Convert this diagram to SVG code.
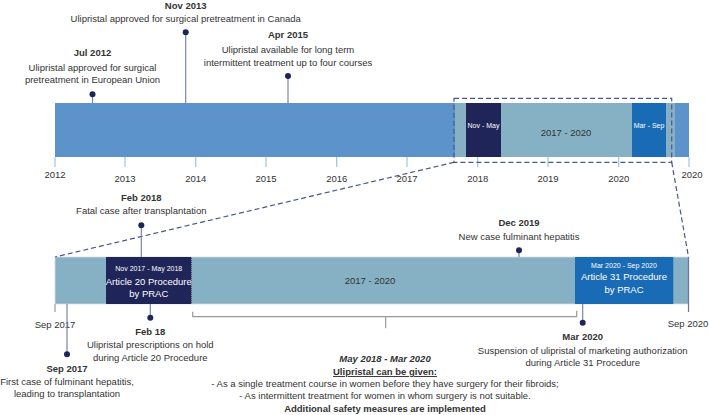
<svg xmlns="http://www.w3.org/2000/svg" width="709" height="415" viewBox="0 0 709 415">
<style>
text{font-family:"Liberation Sans",Arial,sans-serif;font-size:9.5px;fill:#333;text-anchor:middle}
.b{font-weight:bold}
.w{fill:#fff}
.s{font-size:7px;fill:#fff}
.dash{stroke:#4A5590;stroke-width:1.2;stroke-dasharray:5 3;fill:none}
.stem{stroke:#7A86AE;stroke-width:1.2}
.dot{fill:#1F2459}
.tick{stroke:#9DC3E6;stroke-width:1.2}
.gt{stroke:#999;stroke-width:1.2;fill:none}
</style>
<rect width="709" height="415" fill="#fff"/>
<g id="upper-bar">
<rect x="55" y="103" width="634" height="54" fill="#5B93CA"/>
<rect x="455" y="103" width="220" height="54" fill="#86B1C5"/>
<rect x="466" y="103" width="35" height="54" fill="#1F2459"/>
<rect x="632" y="103" width="34" height="54" fill="#1A6BB5"/>
<text class="s" x="483.5" y="127.5">Nov - May</text>
<text x="566" y="136">2017 - 2020</text>
<text class="s" x="649" y="127.5">Mar - Sep</text>
</g>
<g id="upper-axis">
<line class="tick" x1="55" y1="157" x2="55" y2="167"/>
<line class="tick" x1="125" y1="157" x2="125" y2="167"/>
<line class="tick" x1="195.7" y1="157" x2="195.7" y2="167"/>
<line class="tick" x1="266" y1="157" x2="266" y2="167"/>
<line class="tick" x1="336.7" y1="157" x2="336.7" y2="167"/>
<line class="tick" x1="407" y1="157" x2="407" y2="167"/>
<line class="tick" x1="477.7" y1="157" x2="477.7" y2="167"/>
<line class="tick" x1="548" y1="157" x2="548" y2="167"/>
<line class="tick" x1="618.7" y1="157" x2="618.7" y2="167"/>
<line class="tick" x1="689" y1="157" x2="689" y2="167"/>
<text x="55" y="178.3">2012</text>
<text x="125" y="182.3">2013</text>
<text x="195.7" y="182.3">2014</text>
<text x="266" y="182.3">2015</text>
<text x="336.7" y="182.3">2016</text>
<text x="407" y="182.3">2017</text>
<text x="477.7" y="182.3">2018</text>
<text x="548" y="182.3">2019</text>
<text x="618.7" y="182.3">2020</text>
<text x="692" y="178.3">2020</text>
</g>
<g id="ev-jul2012">
<text class="b" x="92.5" y="56.3">Jul 2012</text>
<text x="92.5" y="71">Ulipristal approved for surgical</text>
<text x="92.5" y="83.3">pretreatment in European Union</text>
</g>
<g id="ev-nov2013">
<text class="b" x="185.7" y="8.5">Nov 2013</text>
<text x="185.7" y="21.6">Ulipristal approved for surgical pretreatment in Canada</text>
</g>
<g id="ev-apr2015">
<text class="b" x="288" y="38.3">Apr 2015</text>
<text x="288" y="53">Ulipristal available for long term</text>
<text x="288" y="65.6">intermittent treatment up to four courses</text>
</g>
<g id="lower-bar">
<rect x="55" y="257" width="633.5" height="47" fill="#86B1C5" stroke="#d8dde0" stroke-width="0.8"/>
<rect x="106" y="257" width="85.7" height="47" fill="#1F2459"/>
<rect x="575" y="257" width="98.3" height="47" fill="#1A6BB5"/>
<line x1="191.7" y1="257" x2="191.7" y2="304" stroke="#9FB3C0" stroke-width="1" stroke-dasharray="1 1"/>
<text class="s" x="148.75" y="270.8">Nov 2017 - May 2018</text>
<text class="w" x="148.75" y="285">Article 20 Procedure</text>
<text class="w" x="148.75" y="297.3">by PRAC</text>
<text x="370" y="284.3">2017 - 2020</text>
<text class="s" x="624" y="268.2">Mar 2020 - Sep 2020</text>
<text class="w" x="624" y="280.3">Article 31 Procedure</text>
<text class="w" x="624" y="292.8">by PRAC</text>
<text x="55" y="327.6">Sep 2017</text>
<text x="688" y="326.6">Sep 2020</text>
</g>
<g id="ev-feb2018">
<text class="b" x="141.3" y="201">Feb 2018</text>
<text x="141.3" y="214.3">Fatal case after transplantation</text>
</g>
<g id="ev-dec2019">
<text class="b" x="519" y="225.6">Dec 2019</text>
<text x="519" y="240">New case fulminant hepatitis</text>
</g>
<g id="ev-sep2017">
<text class="b" x="67" y="371.6">Sep 2017</text>
<text x="67" y="385">First case of fulminant hepatitis,</text>
<text x="67" y="397.3">leading to transplantation</text>
</g>
<g id="ev-feb18">
<text class="b" x="150.3" y="335">Feb 18</text>
<text x="150.3" y="348.3">Ulipristal prescriptions on hold</text>
<text x="150.3" y="360.6">during Article 20 Procedure</text>
</g>
<g id="ev-mar2020">
<text class="b" x="582.7" y="340">Mar 2020</text>
<text x="582.7" y="354">Suspension of ulipristal of marketing authorization</text>
<text x="582.7" y="366">during Article 31 Procedure</text>
</g>
<g id="note">
<text class="b" x="385" y="361.6" font-style="italic">May 2018 - Mar 2020</text>
<text class="b" x="385" y="375" text-decoration="underline">Ulipristal can be given:</text>
<text x="385" y="387.3">- As a single treatment course in women before they have surgery for their fibroids;</text>
<text x="385" y="399.3">- As intermittent treatment for women in whom surgery is not suitable.</text>
<text class="b" x="385" y="411.6">Additional safety measures are implemented</text>
</g>
<g id="connectors">
<rect class="dash" x="454" y="98.3" width="217.7" height="64"/>
<line class="dash" x1="454" y1="162.3" x2="55" y2="257"/>
<line class="dash" x1="671.7" y1="162.3" x2="688.5" y2="257"/>
<line class="stem" x1="92.5" y1="94.3" x2="92.5" y2="103"/>
<line class="stem" x1="185.7" y1="32.3" x2="185.7" y2="103"/>
<line class="stem" x1="288" y1="76" x2="288" y2="103"/>
<line class="stem" x1="141.3" y1="225.3" x2="141.3" y2="257"/>
<line class="stem" x1="519" y1="250.3" x2="519" y2="257"/>
<line class="stem" x1="67" y1="304" x2="67" y2="354.3"/>
<line class="stem" x1="150.3" y1="304" x2="150.3" y2="317.7"/>
<line class="stem" x1="582.7" y1="304" x2="582.7" y2="322.7"/>
<line class="gt" x1="55" y1="304" x2="55" y2="312"/>
<line x1="688.5" y1="257" x2="688.5" y2="312" stroke="#6A74A0" stroke-width="1.2"/>
<path class="gt" d="M192.7 311.7V316.7H576.7V310.7M385.7 316.7V328.3"/>
<circle class="dot" cx="92.5" cy="94.3" r="3"/>
<circle class="dot" cx="185.7" cy="32.3" r="3"/>
<circle class="dot" cx="288" cy="76" r="3"/>
<circle class="dot" cx="141.3" cy="225.3" r="3"/>
<circle class="dot" cx="519" cy="250.3" r="3"/>
<circle class="dot" cx="67" cy="354.3" r="3"/>
<circle class="dot" cx="150.3" cy="317.7" r="3"/>
<circle class="dot" cx="582.7" cy="322.7" r="3"/>
</g>
</svg>
